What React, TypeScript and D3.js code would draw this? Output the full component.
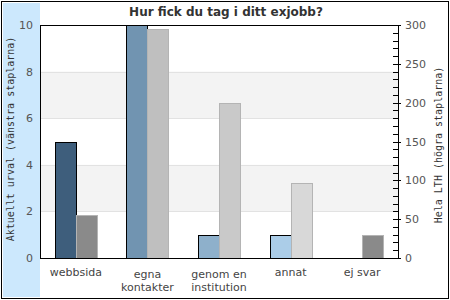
import React from 'react'
import * as d3 from 'd3'

// categories and values
const categories = ['webbsida', 'egna kontakter', 'genom en institution', 'annat', 'ej svar']
const categoryLines = [['webbsida'], ['egna', 'kontakter'], ['genom en', 'institution'], ['annat'], ['ej svar']]
const urvalValues = [5, 10, 1, 1, 0]
const lthValues = [56, 295, 200, 96, 30]
const urvalColors = ['#3e5e7c', '#7194b1', '#8eb0cb', '#abcde8', '#abcde8']
const lthColors = ['#8a8a8a', '#bfbfbf', '#c9c9c9', '#d8d8d8', '#8a8a8a']
const leftTicks = [0, 2, 4, 6, 8, 10]
const rightTicks = [0, 50, 100, 150, 200, 250, 300]

const W = 450
const H = 300
const margin = { top: 25, right: 52, bottom: 42, left: 40 }

export default function App() {
  const x0 = margin.left
  const x1 = W - margin.right
  const yTop = margin.top
  const yBot = H - margin.bottom

  const x = d3.scaleBand().domain(categories).range([x0, x1])
  const yL = d3.scaleLinear().domain([0, 10]).range([yBot, yTop])
  const yR = d3.scaleLinear().domain([0, 300]).range([yBot, yTop])
  const barW = 21

  // alternating grey bands behind the bars
  const bands = [
    [2, 4],
    [6, 8],
  ]
  const minor = d3.range(0, 301, 10)

  return (
    <svg width={W} height={H} style={{ position: 'absolute', left: 0, top: 0 }}>
      <rect x={0} y={0} width={W} height={H} fill="#fff" />
      <rect x={3} y={3} width={37} height={H - 6} fill="#cce8fd" />
      <rect x={1.5} y={1.5} width={W - 3} height={H - 3} fill="none" stroke="#000" strokeWidth={1} />

      {bands.map(([a, b]) => (
        <rect key={a} x={x0} y={yL(b)} width={x1 - x0} height={yL(a) - yL(b)} fill="#f3f3f3" />
      ))}
      {[2, 4, 6, 8].map((t) => (
        <line key={t} x1={x0} x2={x1} y1={Math.round(yL(t)) + 0.5} y2={Math.round(yL(t)) + 0.5} stroke="#e2e2e2" />
      ))}

      {categories.map((c, i) => {
        const cx = x(c)! + x.bandwidth() / 2
        return (
          <g key={c}>
            {urvalValues[i] > 0 && (
              <rect
                x={Math.round(cx - barW) + 0.5}
                y={Math.round(yL(urvalValues[i])) + 0.5}
                width={barW}
                height={yBot - Math.round(yL(urvalValues[i]))}
                fill={urvalColors[i]}
                stroke="#000"
              />
            )}
            <rect
              x={Math.round(cx) + 0.5}
              y={Math.round(yR(lthValues[i])) + 0.5}
              width={barW}
              height={yBot - Math.round(yR(lthValues[i]))}
              fill={lthColors[i]}
              stroke="#b4b4b4"
            />
          </g>
        )
      })}

      <rect x={x0 + 0.5} y={yTop + 0.5} width={x1 - x0} height={yBot - yTop} fill="none" stroke="#000" />

      {minor.map((t) => (
        <line
          key={t}
          x1={x1 - 5}
          x2={t % 50 === 0 ? x1 + 3 : x1}
          y1={Math.round(yR(t)) + 0.5}
          y2={Math.round(yR(t)) + 0.5}
          stroke="#000"
        />
      ))}

      <g fontFamily="DejaVu Sans" fontSize={11} fill="#555">
        {leftTicks.map((t) => (
          <text key={t} x={33} y={yL(t) + 4} textAnchor="end">
            {t}
          </text>
        ))}
        {rightTicks.map((t) => (
          <text key={t} x={405} y={yR(t) + 4} textAnchor="start">
            {t}
          </text>
        ))}
        {categories.map((c, i) => {
          const cx = x(c)! + x.bandwidth() / 2
          return (
            <text key={c} textAnchor="middle" fill="#444">
              {categoryLines[i].map((l, j) => (
                <tspan key={j} x={cx} y={(categoryLines[i].length > 1 ? 278 : 276) + j * 13}>
                  {l}
                </tspan>
              ))}
            </text>
          )
        })}
      </g>

      <text x={226} y={16} textAnchor="middle" fontFamily="DejaVu Sans" fontWeight="bold" fontSize={12} fill="#333">
        Hur fick du tag i ditt exjobb?
      </text>

      <g fontFamily="DejaVu Sans Mono" fontSize={10} fill="#333" textAnchor="middle">
        <text transform={`translate(14,139) rotate(-90)`}>Aktuellt urval (vänstra staplarna)</text>
        <text transform={`translate(442,145) rotate(-90)`}>Hela LTH (högra staplarna)</text>
      </g>
    </svg>
  )
}
